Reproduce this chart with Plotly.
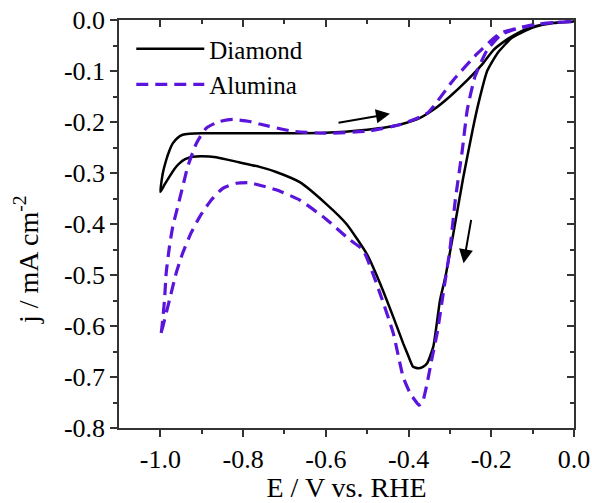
import plotly.graph_objects as go

# Diamond: cathodic sweep (0 -> -1.0) then anodic sweep (-1.0 -> 0)
E_diamond = [0.0, -0.05, -0.10, -0.15, -0.185, -0.21, -0.23, -0.245, -0.268, -0.292, -0.31,
             -0.324, -0.34, -0.355, -0.365, -0.377, -0.389, -0.40, -0.413, -0.437, -0.469,
             -0.50, -0.55, -0.60, -0.663, -0.72, -0.76, -0.81, -0.865, -0.90, -0.922, -0.94,
             -0.954, -0.966, -0.978, -0.99, -1.0,
             -0.994, -0.986, -0.978, -0.970, -0.958, -0.946, -0.93, -0.90, -0.80, -0.70,
             -0.60, -0.50, -0.45, -0.42, -0.38, -0.34, -0.30, -0.258, -0.22, -0.195, -0.165,
             -0.137, -0.10, -0.081, -0.04, 0.0]
j_diamond = [-0.003, -0.006, -0.015, -0.035, -0.065, -0.10, -0.16, -0.215, -0.31, -0.42, -0.50,
             -0.55, -0.64, -0.673, -0.68, -0.683, -0.68, -0.66, -0.634, -0.582, -0.516,
             -0.46, -0.40, -0.36, -0.318, -0.298, -0.288, -0.279, -0.269, -0.267, -0.268, -0.273,
             -0.281, -0.292, -0.307, -0.323, -0.337,
             -0.30, -0.275, -0.256, -0.242, -0.231, -0.225, -0.223, -0.222, -0.222, -0.222,
             -0.221, -0.215, -0.21, -0.205, -0.195, -0.176, -0.15, -0.118, -0.085, -0.059, -0.04,
             -0.026, -0.013, -0.01, -0.005, -0.003]

# Alumina: cathodic sweep (0 -> -1.0) then anodic sweep (-1.0 -> 0)
E_alumina = [0.0, -0.05, -0.10, -0.15, -0.178, -0.21, -0.239, -0.258, -0.27, -0.287, -0.30,
             -0.315, -0.33, -0.345, -0.355, -0.367, -0.375, -0.385, -0.396, -0.413, -0.437,
             -0.469, -0.51, -0.542, -0.60, -0.663, -0.72, -0.76, -0.784, -0.816, -0.849, -0.877,
             -0.905, -0.926, -0.946, -0.962, -0.978, -0.994, -1.0,
             -0.998, -0.990, -0.986, -0.978, -0.970, -0.958, -0.946, -0.934, -0.913, -0.889,
             -0.857, -0.825, -0.784, -0.76, -0.68, -0.60, -0.50, -0.42, -0.355, -0.292, -0.234,
             -0.178, -0.098, -0.05, 0.0]
j_alumina = [-0.003, -0.005, -0.01, -0.02, -0.03, -0.059, -0.11, -0.176, -0.255, -0.353, -0.45,
             -0.53, -0.61, -0.67, -0.712, -0.751, -0.755, -0.745, -0.732, -0.70, -0.614,
             -0.536, -0.451, -0.431, -0.39, -0.353, -0.333, -0.324, -0.319, -0.320, -0.330, -0.353,
             -0.386, -0.418, -0.457, -0.497, -0.549, -0.601, -0.618,
             -0.614, -0.549, -0.497, -0.444, -0.405, -0.366, -0.327, -0.288, -0.242, -0.212,
             -0.199, -0.195, -0.199, -0.204, -0.218, -0.222, -0.218, -0.205, -0.183, -0.118, -0.066,
             -0.026, -0.009, -0.005, -0.003]

x_ticks = [-1.0, -0.8, -0.6, -0.4, -0.2, 0.0]
x_ticktext = ["-1.0", "-0.8", "-0.6", "-0.4", "-0.2", "0.0"]
x_minor = [-0.9, -0.7, -0.5, -0.3, -0.1]
y_ticks = [0.0, -0.1, -0.2, -0.3, -0.4, -0.5, -0.6, -0.7, -0.8]
y_ticktext = ["0.0", "-0.1", "-0.2", "-0.3", "-0.4", "-0.5", "-0.6", "-0.7", "-0.8"]
y_minor = [-0.05, -0.15, -0.25, -0.35, -0.45, -0.55, -0.65, -0.75]

series_names = ["Diamond", "Alumina"]
PURPLE = "#5A14DC"
FONT = "Liberation Serif, Times New Roman, serif"
AX = "#333333"

fig = go.Figure()
fig.add_trace(go.Scatter(x=E_diamond, y=j_diamond, mode="lines", name=series_names[0],
                         line=dict(color="black", width=2.5, shape="spline", smoothing=0.5)))
fig.add_trace(go.Scatter(x=E_alumina, y=j_alumina, mode="lines", name=series_names[1],
                         line=dict(color=PURPLE, width=3.2, dash="12px,7px", shape="spline", smoothing=0.5)))
fig.add_trace(go.Scatter(x=[], y=[], xaxis="x2", yaxis="y2", showlegend=False))

xr = [-1.1, 0.0]
yr = [-0.8, 0.0]

common = dict(showgrid=False, zeroline=False, showline=True, linecolor=AX, linewidth=1.5,
              tickwidth=1.5, tickcolor=AX, automargin=False, ticklabeloverflow="allow")

fig.update_layout(
    width=592, height=503, autosize=False,
    margin=dict(l=119, r=18, t=20, b=75),
    paper_bgcolor="white", plot_bgcolor="white",
    font=dict(family=FONT, size=26, color="black"),
    showlegend=True,
    legend=dict(x=0.027, y=0.985, xanchor="left", yanchor="top", bgcolor="rgba(0,0,0,0)",
                font=dict(family=FONT, size=25), itemwidth=68, tracegroupgap=0),
    xaxis=dict(range=xr, ticks="outside", ticklen=7, tickvals=x_ticks, ticktext=x_ticktext,
               minor=dict(tickvals=x_minor, ticks="outside", ticklen=4, tickwidth=1.5, tickcolor=AX, showgrid=False),
               title=dict(text="E / V vs. RHE", font=dict(family=FONT, size=28), standoff=16), **common),
    yaxis=dict(range=yr, ticks="outside", ticklen=7, tickvals=y_ticks, ticktext=y_ticktext,
               minor=dict(tickvals=y_minor, ticks="outside", ticklen=4, tickwidth=1.5, tickcolor=AX, showgrid=False),
               **common),
    xaxis2=dict(range=xr, overlaying="x", side="top", anchor="y", ticks="inside", ticklen=7,
                tickvals=x_ticks, showticklabels=False,
                minor=dict(tickvals=x_minor, ticks="inside", ticklen=4, tickwidth=1.5, tickcolor=AX, showgrid=False),
                **common),
    yaxis2=dict(range=yr, overlaying="y", side="right", anchor="x", ticks="inside", ticklen=7,
                tickvals=y_ticks, showticklabels=False,
                minor=dict(tickvals=y_minor, ticks="inside", ticklen=4, tickwidth=1.5, tickcolor=AX, showgrid=False),
                **common),
)

# y-axis title as rotated annotation
fig.add_annotation(text="j / mA cm<sup>-2</sup>", textangle=-90, xref="paper", yref="paper",
                   x=-0.202, y=0.412, xanchor="center", yanchor="middle", showarrow=False,
                   font=dict(family=FONT, size=28))

# sweep direction arrows
fig.add_annotation(x=-0.445, y=-0.184, ax=-0.573, ay=-0.202, xref="x", yref="y", axref="x", ayref="y",
                   showarrow=True, arrowhead=2, arrowsize=1.4, arrowwidth=2, arrowcolor="black", text="")
fig.add_annotation(x=-0.267, y=-0.477, ax=-0.248, ay=-0.389, xref="x", yref="y", axref="x", ayref="y",
                   showarrow=True, arrowhead=2, arrowsize=1.4, arrowwidth=2, arrowcolor="black", text="")

# remove the default page margin so the figure sits exactly in the window
fig.write_html("out.html", config={"displayModeBar": False},
               post_script="document.body.style.margin='0';document.body.style.overflow='hidden';")
